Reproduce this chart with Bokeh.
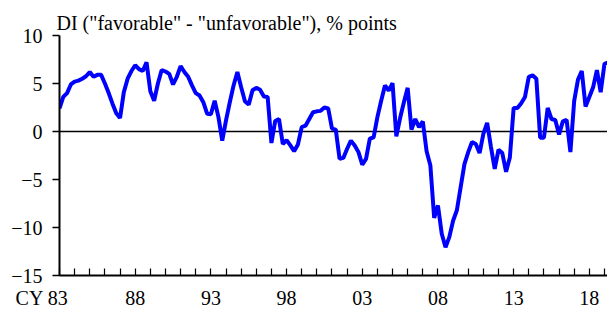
from bokeh.plotting import figure
from bokeh.models import FixedTicker, Span, Range1d
from bokeh.embed import file_html
from bokeh.resources import INLINE

# Quarterly DI values, 1983Q1 onward
start_year = 1983
values = [
    2.4, 3.6, 4.0, 4.9, 5.2, 5.3, 5.5, 5.75, 6.2, 5.7, 5.9, 5.9,      # 83-85
    5.0, 4.0, 2.9, 1.9, 1.4, 4.1, 5.5, 6.3, 6.9, 6.5, 6.3, 7.2,       # 86-88
    4.2, 3.2, 5.0, 6.4, 6.25, 6.0, 4.9, 5.7, 6.8, 6.2, 5.7, 4.8,      # 89-91
    4.0, 3.75, 3.05, 1.85, 1.8, 3.2, 1.5, -0.95, 1.15, 3.05, 4.8, 6.2,  # 92-94
    4.6, 3.15, 2.8, 4.3, 4.55, 4.35, 3.65, 3.6, -1.2, 1.1, 1.3, -1.3,  # 95-97
    -0.9, -1.45, -2.05, -1.35, 0.45, 0.6, 1.3, 2.0, 2.1, 2.15, 2.5, 2.4,  # 98-00
    0.3, 0.2, -2.85, -2.75, -1.8, -0.95, -1.45, -2.15, -3.45, -2.85, -0.75, -0.6,  # 01-03
    1.5, 3.2, 4.8, 4.25, 5.05, -0.5, 1.4, 3.05, 4.55, 0.2, 1.3, 0.45,  # 04-06
    1.05, -2.05, -3.55, -9.0, -7.7, -10.65, -12.05, -11.0, -9.3, -8.2, -5.8, -3.4,  # 07-09
    -2.15, -1.1, -1.3, -2.25, -0.25, 0.9, -1.6, -3.9, -1.9, -2.25, -4.2, -2.7,  # 10-12
    2.45, 2.45, 2.95, 3.6, 5.7, 5.85, 5.5, -0.65, -0.65, 2.45, 1.3, 1.2,  # 13-15
    -0.3, 1.05, 1.2, -2.15, 3.2, 5.4, 6.3, 2.6, 3.6, 4.6, 6.4, 4.1,  # 16-18
    7.05, 7.2,  # 19
]
quarters = [start_year + i / 4 for i in range(len(values))]

tick_years = list(range(1983, 2020))
NB = "\u00a0"
label_years = {1983: "CY 83" + NB * 7, 1988: "88", 1993: "93", 1998: "98",
               2003: "03", 2008: "08", 2013: "13", 2018: "18"}
y_ticks = [-15, -10, -5, 0, 5, 10]
title_text = 'DI ("favorable" - "unfavorable"), % points'

FONT = "Liberation Serif"

p = figure(width=607, height=311, output_backend="svg", toolbar_location=None,
           x_range=Range1d(1983, 2019.2), y_range=Range1d(-15, 10),
           min_border_left=59, min_border_right=0, min_border_top=35,
           min_border_bottom=36)
p.outline_line_color = None
p.xgrid.grid_line_color = None
p.ygrid.grid_line_color = None
p.background_fill_color = "white"

p.title.text = title_text
p.title.align = "left"
p.title.text_font = FONT
p.title.text_font_size = "20px"
p.title.text_font_style = "normal"
p.title.text_color = "black"
p.title.offset = -3
p.title.standoff = 4

zero = Span(location=0, dimension="width", line_color="black", line_width=1.5,
            level="underlay")
p.add_layout(zero)

p.line(quarters, values, line_color="#0000FF", line_width=4)

xa = p.xaxis[0]
xa.ticker = FixedTicker(ticks=tick_years)
xa.major_label_overrides = {y: label_years.get(y, "") for y in tick_years}
xa.major_tick_in = 7
xa.major_tick_out = 0
xa.minor_tick_line_color = None
xa.axis_line_width = 2
xa.major_tick_line_width = 1.2
xa.major_label_text_font = FONT
xa.major_label_text_font_size = "20px"
xa.major_label_text_color = "black"
xa.major_label_standoff = 11

ya = p.yaxis[0]
ya.ticker = FixedTicker(ticks=y_ticks)
ya.major_tick_in = 0
ya.major_tick_out = 7
ya.minor_tick_line_color = None
ya.axis_line_width = 2
ya.major_tick_line_width = 1.5
ya.major_label_text_font = FONT
ya.major_label_text_font_size = "20px"
ya.major_label_text_color = "black"
ya.major_label_standoff = 10

open("out.html", "w").write(file_html(p, INLINE))
